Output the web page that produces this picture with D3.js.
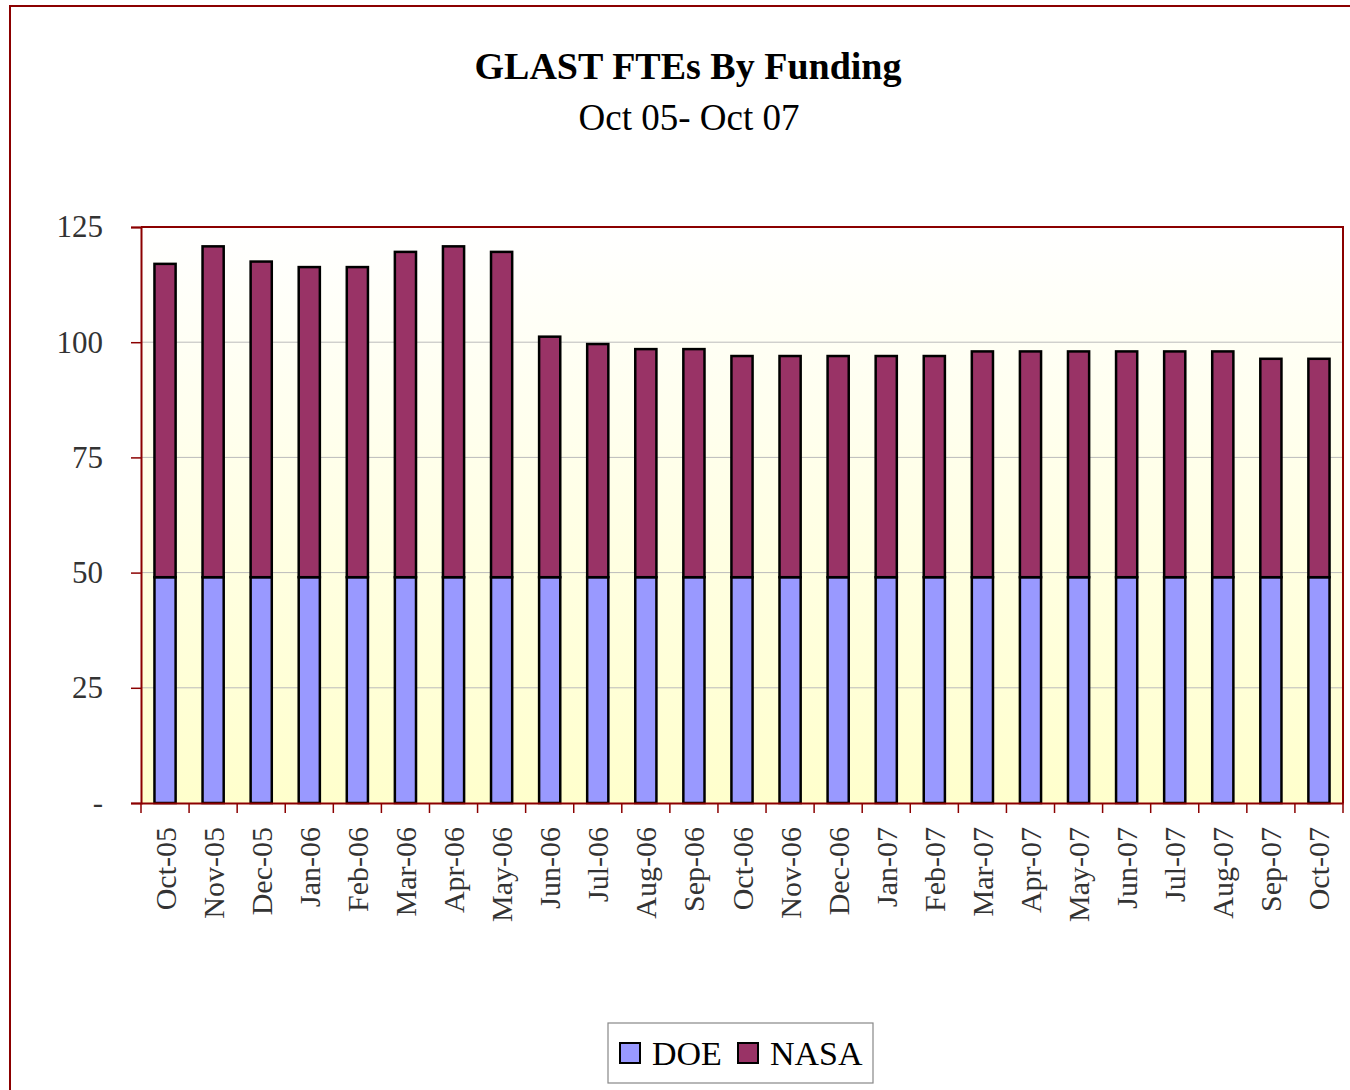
<!DOCTYPE html>
<html><head><meta charset="utf-8">
<script src="https://cdn.jsdelivr.net/npm/d3@7"></script>
<style>body{margin:0;background:#fff}svg{display:block}</style>
</head><body>
<script>
const months = ["Oct-05","Nov-05","Dec-05","Jan-06","Feb-06","Mar-06","Apr-06","May-06","Jun-06","Jul-06","Aug-06","Sep-06","Oct-06","Nov-06","Dec-06","Jan-07","Feb-07","Mar-07","Apr-07","May-07","Jun-07","Jul-07","Aug-07","Sep-07","Oct-07"];
const doe  = [49,49,49,49,49,49,49,49,49,49,49,49,49,49,49,49,49,49,49,49,49,49,49,49,49];
const nasa = [68,71.8,68.5,67.3,67.3,70.6,71.8,70.6,52.2,50.6,49.5,49.5,48,48,48,48,48,49,49,49,49,49,49,47.4,47.4];
const yTicks = [0,25,50,75,100,125];
const yTickLabels = ["-","25","50","75","100","125"];
const seriesNames = ["DOE","NASA"];
const seriesColors = ["#9999FF","#993366"];

const W=1350,H=1090;
const svg=d3.select("body").append("svg").attr("width",W).attr("height",H);
const font="'Liberation Serif','Times New Roman',serif";
const dark="#8B0000";

// outer frame
svg.append("rect").attr("x",10).attr("y",6).attr("width",1360).attr("height",1120)
  .attr("fill","none").attr("stroke",dark).attr("stroke-width",2);

svg.append("text").attr("x",688).attr("y",79).attr("text-anchor","middle")
  .attr("font-family",font).attr("font-weight","bold").attr("font-size",38)
  .text("GLAST FTEs By Funding");
svg.append("text").attr("x",689).attr("y",130).attr("text-anchor","middle")
  .attr("font-family",font).attr("font-size",37)
  .text("Oct 05- Oct 07");

const L=141,R=1343,T=227,B=803;
const x=d3.scaleBand().domain(months).range([L,R]).paddingInner(0.56).paddingOuter(0.28);
const xb=d3.scaleBand().domain(months).range([L,R]);
const y=d3.scaleLinear().domain([0,125]).range([B,T]);

const defs=svg.append("defs");
const g=defs.append("linearGradient").attr("id","bg").attr("x1",0).attr("y1",0).attr("x2",0).attr("y2",1);
g.append("stop").attr("offset","0%").attr("stop-color","#FFFFFF");
g.append("stop").attr("offset","100%").attr("stop-color","#FFFFCC");
svg.append("rect").attr("x",L).attr("y",T).attr("width",R-L).attr("height",B-T).attr("fill","url(#bg)");

// gridlines
svg.append("g").selectAll("line").data(yTicks.slice(1,-1)).join("line")
  .attr("x1",L).attr("x2",R).attr("y1",d=>y(d)).attr("y2",d=>y(d))
  .attr("stroke","#BBBBBB").attr("stroke-width",1);

// stacked bars
const stackData=months.map((m,i)=>({m,DOE:doe[i],NASA:nasa[i]}));
const stack=d3.stack().keys(seriesNames)(stackData);
svg.append("g").selectAll("g").data(stack).join("g")
  .attr("fill",(d,i)=>seriesColors[i])
  .selectAll("rect").data(d=>d).join("rect")
  .attr("x",d=>x(d.data.m)).attr("width",x.bandwidth())
  .attr("y",d=>y(d[1])).attr("height",d=>y(d[0])-y(d[1]))
  .attr("stroke","#000").attr("stroke-width",2.5);

// plot border (top/right)
svg.append("path").attr("d",`M${L},${T}H${R}V${B}`).attr("fill","none").attr("stroke",dark).attr("stroke-width",2);

// y axis
const ya=svg.append("g").attr("transform",`translate(${L},0)`)
  .call(d3.axisLeft(y).tickValues(yTicks).tickFormat((d,i)=>yTickLabels[i]).tickSize(10).tickPadding(28));
ya.select(".domain").attr("stroke",dark).attr("stroke-width",2);
ya.selectAll(".tick line").attr("stroke",dark).attr("stroke-width",1.5);
ya.selectAll("text").attr("font-family",font).attr("font-size",31).attr("fill","#333");

// x axis
const xa=svg.append("g").attr("transform",`translate(0,${B})`)
  .call(d3.axisBottom(xb).tickSize(0).tickFormat(d=>d));
xa.select(".domain").attr("stroke",dark).attr("stroke-width",2);
xa.selectAll(".tick text").attr("font-family",font).attr("font-size",30).attr("fill","#333")
  .attr("text-anchor","end").attr("dy","0.35em")
  .attr("transform","translate(0,24) rotate(-90)").attr("x",0).attr("y",0);
// tick marks at band boundaries
const bounds=months.map(m=>xb(m)).concat([R]);
svg.append("g").selectAll("line").data(bounds).join("line")
  .attr("x1",d=>d).attr("x2",d=>d).attr("y1",B).attr("y2",B+10)
  .attr("stroke",dark).attr("stroke-width",1.5);

// legend
const lg=svg.append("g");
lg.append("rect").attr("x",608).attr("y",1023).attr("width",265).attr("height",60)
  .attr("fill","#fff").attr("stroke","#888").attr("stroke-width",1.2);
const lx=[620,738],tx=[652,770];
seriesNames.forEach((s,i)=>{
  lg.append("rect").attr("x",lx[i]).attr("y",1043).attr("width",20).attr("height",20)
    .attr("fill",seriesColors[i]).attr("stroke","#000").attr("stroke-width",2);
  lg.append("text").attr("x",tx[i]).attr("y",1065).attr("font-family",font).attr("font-size",34).text(s);
});
</script>
</body></html>
